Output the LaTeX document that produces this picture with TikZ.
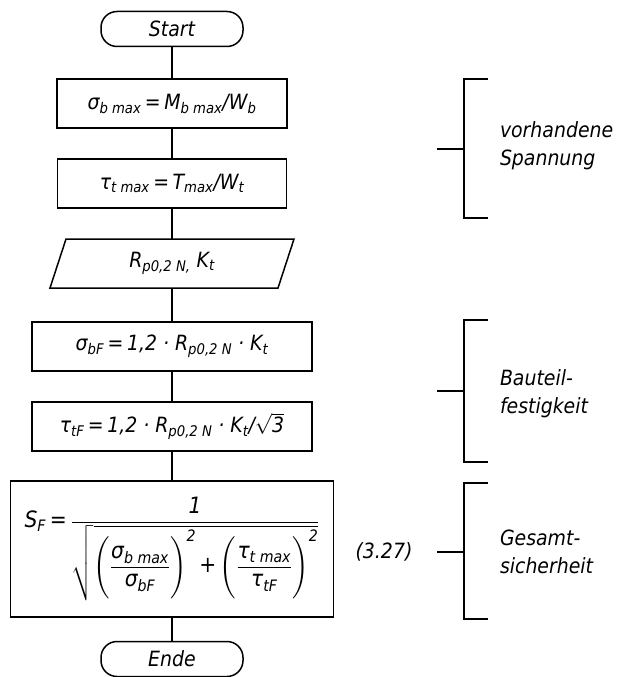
\documentclass[tikz,border=0pt]{standalone}
\usepackage{amsmath}
\usepackage{fontspec}
\setmainfont{DejaVu Sans Condensed}
% struts that open up the inner fractions of the safety formula
\newcommand{\numstrut}{\rule{0pt}{19pt}}
\newcommand{\denstrut}{\rule[-9pt]{0pt}{9pt}}
\begin{document}
\begin{tikzpicture}[x=1pt,y=-1pt,
  font=\fontsize{21}{25}\selectfont\itshape,
  every node/.style={inner sep=0pt, outer sep=0pt, text=black},
  proc/.style={draw, line width=1.5pt, minimum height=49pt},
  term/.style={draw, line width=1.5pt, rounded corners=16pt,
               minimum width=142pt, minimum height=35pt},
  flow/.style={line width=1.5pt},
  bracket/.style={line width=1.5pt},
  note/.style={align=left, anchor=west, font=\fontsize{21}{28}\selectfont\itshape}
]
\useasboundingbox (0,0) rectangle (621,677);

% flow chart
\node[term] (start) at (172,29) {Start};
\node[proc, minimum width=230pt] (b1) at (172,103.5)
  {σ\textsubscript{b max}\,=\,M\textsubscript{b max}/W\textsubscript{b}};
\node[proc, minimum width=229pt] (b2) at (172,183.5)
  {τ\textsubscript{t max}\,=\,T\textsubscript{max}/W\textsubscript{t}};
\node[minimum width=228pt, minimum height=49pt] (inp) at (172,263.5)
  {R\textsubscript{p0,2 N,} K\textsubscript{t}};
\draw[flow] ([xshift=8pt]inp.north west) -- ([xshift=8pt]inp.north east)
  -- ([xshift=-8pt]inp.south east) -- ([xshift=-8pt]inp.south west) -- cycle;
\node[proc, minimum width=280pt] (b3) at (172,346.5)
  {σ\textsubscript{bF}\,=\,1,2 · R\textsubscript{p0,2 N} · K\textsubscript{t}};
\node[proc, minimum width=280pt] (b4) at (172,426.5)
  {τ\textsubscript{tF}\,=\,1,2 · R\textsubscript{p0,2 N} · K\textsubscript{t}/$\sqrt{\text{3}}$};
\node[proc, minimum width=323pt, minimum height=136pt] (b5) at (172,549)
  {\fontsize{22.5}{26}\selectfont
   $\text{S}_{\text{F}}\text{\,=\,}\dfrac{\text{1}}{\sqrt{\left(\dfrac{\numstrut\text{σ}_{\text{b max}}}{\text{σ}_{\text{bF}}\denstrut}\right)^{\text{2}}\text{+}\left(\dfrac{\numstrut\text{τ}_{\text{t max}}}{\text{τ}_{\text{tF}}\denstrut}\right)^{\text{2}}}}$};
\node[term] (ende) at (172,659) {Ende};

\draw[flow] (start) -- (b1);
\draw[flow] (b1) -- (b2);
\draw[flow] (b2) -- (inp);
\draw[flow] (inp) -- (b3);
\draw[flow] (b3) -- (b4);
\draw[flow] (b4) -- (b5);
\draw[flow] (b5) -- (ende);

% equation number
\node (eq) at (384,552) {(3.27)};

% brackets with their notes
\draw[bracket] (488,79) -| (464,218) -- (488,218);
\draw[bracket] (437,149) -- (464,149);
\node[note] (n1) at (500,146) {vorhandene\\Spannung};

\draw[bracket] (488,320) -| (464,462) -- (488,462);
\draw[bracket] (437,391) -- (464,391);
\node[note] (n2) at (500,394) {Bauteil-\\festigkeit};

\draw[bracket] (488,483) -| (464,619) -- (488,619);
\draw[bracket] (437,552) -- (464,552);
\node[note] (n3) at (500,552) {Gesamt-\\sicherheit};
\end{tikzpicture}
\end{document}
